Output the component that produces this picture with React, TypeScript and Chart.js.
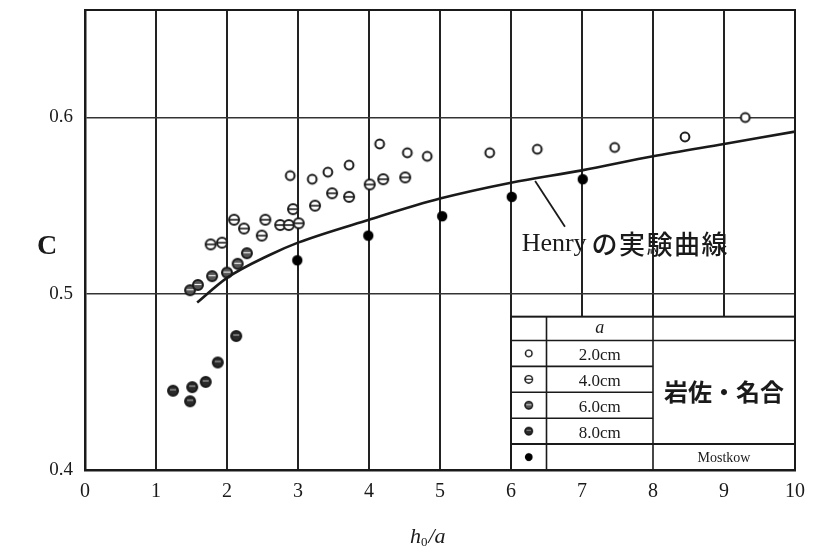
import React, { useEffect, useRef } from "react";
import { Chart, registerables } from "chart.js";
Chart.register(...registerables);

// ---- data ----
const xTickValues = [0, 1, 2, 3, 4, 5, 6, 7, 8, 9, 10];
const yTickValues = [0.4, 0.5, 0.6];

const a20X = [2.89, 3.2, 3.42, 3.72, 4.15, 4.54, 4.82, 5.7, 6.37, 7.46, 8.45, 9.3];
const a20Y = [0.567, 0.565, 0.569, 0.573, 0.585, 0.58, 0.578, 0.58, 0.582, 0.583, 0.589, 0.6];

const a40X = [1.77, 1.93, 2.1, 2.24, 2.49, 2.54, 2.75, 2.87, 3.01, 2.93, 3.24, 3.48, 3.72, 4.01, 4.2, 4.51];
const a40Y = [0.528, 0.529, 0.542, 0.537, 0.533, 0.542, 0.539, 0.539, 0.54, 0.548, 0.55, 0.557, 0.555, 0.562, 0.565, 0.566];

const a60X = [1.48, 1.59, 1.79, 2.0, 2.15, 2.28];
const a60Y = [0.502, 0.505, 0.51, 0.512, 0.517, 0.523];

const a80X = [1.24, 1.48, 1.51, 1.7, 1.87, 2.13];
const a80Y = [0.445, 0.439, 0.447, 0.45, 0.461, 0.476];

const mostkowX = [2.99, 3.99, 5.03, 6.01, 7.01];
const mostkowY = [0.519, 0.533, 0.544, 0.555, 0.565];

const henryX = [1.58, 2.0, 2.6, 3.0, 4.0, 5.0, 6.0, 7.0, 8.0, 9.0, 10.0];
const henryY = [0.495, 0.509, 0.522, 0.529, 0.542, 0.554, 0.563, 0.57, 0.578, 0.585, 0.592];

const legendRows = ["2.0cm", "4.0cm", "6.0cm", "8.0cm"];
const henryLatin = "Henry";
const henryCJK = "の実験曲線";
const groupLabel = "岩佐・名合";
const mostkowLabel = "Mostkow";

const INK = "#1a1a1a";
const SERIF = "'Liberation Serif', 'DejaVu Serif', serif";

function pts(xs: number[], ys: number[]) {
  return xs.map((x, i) => ({ x, y: ys[i] }));
}

type Kind = "open" | "bar" | "half" | "dark" | "solid";
function makeMarker(kind: Kind, r = 4.6) {
  const c = document.createElement("canvas");
  const s = 16;
  c.width = s;
  c.height = s;
  const g = c.getContext("2d")!;
  const m = s / 2;
  g.lineWidth = 2;
  g.strokeStyle = INK;
  g.beginPath();
  g.arc(m, m, r, 0, Math.PI * 2);
  if (kind === "open") {
    g.fillStyle = "#fff";
    g.fill();
    g.stroke();
  } else if (kind === "bar") {
    g.fillStyle = "#fff";
    g.fill();
    g.stroke();
    g.beginPath();
    g.moveTo(m - r, m);
    g.lineTo(m + r, m);
    g.lineWidth = 1.6;
    g.stroke();
  } else if (kind === "half") {
    g.fillStyle = "#555";
    g.fill();
    g.stroke();
    g.beginPath();
    g.moveTo(m - r + 1.5, m - 0.5);
    g.lineTo(m + r - 1.5, m - 0.5);
    g.strokeStyle = "#eee";
    g.lineWidth = 1.2;
    g.stroke();
  } else if (kind === "dark") {
    g.fillStyle = "#2a2a2a";
    g.fill();
    g.stroke();
    g.beginPath();
    g.moveTo(m - r + 2, m - 1);
    g.lineTo(m + r - 2, m - 1);
    g.strokeStyle = "#bbb";
    g.lineWidth = 1;
    g.stroke();
  } else {
    g.fillStyle = "#000";
    g.fill();
  }
  return c;
}

export default function App() {
  const ref = useRef<HTMLCanvasElement>(null);

  useEffect(() => {
    const markers = {
      open: makeMarker("open", 4.4),
      bar: makeMarker("bar", 5),
      half: makeMarker("half", 5),
      dark: makeMarker("dark", 5),
      solid: makeMarker("solid", 5.2),
    };

    const overlay = {
      id: "overlay",
      afterDatasetsDraw(chart: any) {
        const { ctx, chartArea: a, scales } = chart;
        const xs = scales.x;
        const ys = scales.y;
        const px = (v: number) => xs.getPixelForValue(v);
        const py = (v: number) => ys.getPixelForValue(v);
        ctx.save();
        ctx.strokeStyle = INK;
        ctx.fillStyle = INK;

        // frame top & right
        ctx.lineWidth = 2;
        ctx.beginPath();
        ctx.moveTo(a.left, a.top);
        ctx.lineTo(a.right, a.top);
        ctx.lineTo(a.right, a.bottom);
        ctx.stroke();

        // Henry annotation
        ctx.lineWidth = 1.8;
        ctx.beginPath();
        ctx.moveTo(px(6.34), py(0.564));
        ctx.lineTo(px(6.76), py(0.538));
        ctx.stroke();
        ctx.textAlign = "left";
        ctx.textBaseline = "middle";
        const tx = px(6.15);
        const ty = py(0.528);
        ctx.font = `26px ${SERIF}`;
        ctx.fillText(henryLatin, tx, ty);
        let cx = tx + ctx.measureText(henryLatin).width + 5;
        ctx.font = `500 26px 'Noto Sans CJK JP'`;
        for (const ch of Array.from(henryCJK)) {
          ctx.fillText(ch, cx, ty);
          cx += 27.5;
        }

        // table
        const c0 = px(6), c1 = px(6.5), c2 = px(8), c3 = px(10);
        const top = py(0.487);
        const hb = py(0.4735);
        const bottom = py(0.4);
        const rh = (bottom - hb) / 5;
        ctx.fillStyle = "#fff";
        ctx.fillRect(c0, top, c3 - c0, bottom - top);
        ctx.strokeStyle = INK;
        ctx.lineWidth = 2;
        ctx.strokeRect(c0, top, c3 - c0, bottom - top);
        ctx.lineWidth = 1.6;
        ctx.beginPath();
        ctx.moveTo(c1, top); ctx.lineTo(c1, bottom);
        ctx.moveTo(c2, top); ctx.lineTo(c2, bottom);
        ctx.moveTo(c0, hb); ctx.lineTo(c3, hb);
        for (let i = 1; i < 4; i++) {
          ctx.moveTo(c0, hb + rh * i);
          ctx.lineTo(c2, hb + rh * i);
        }
        ctx.stroke();
        ctx.lineWidth = 2;
        ctx.beginPath();
        ctx.moveTo(c0, hb + rh * 4); ctx.lineTo(c3, hb + rh * 4);
        ctx.stroke();

        ctx.fillStyle = INK;
        ctx.textAlign = "center";
        ctx.textBaseline = "middle";
        ctx.font = `italic 18px ${SERIF}`;
        ctx.fillText("a", (c1 + c2) / 2, (top + hb) / 2);
        const ms = [markers.open, markers.bar, markers.half, markers.dark, markers.solid];
        ctx.font = `17px ${SERIF}`;
        for (let i = 0; i < 5; i++) {
          const cy = hb + rh * i + rh / 2;
          const mk = ms[i];
          const sz = 12;
          ctx.drawImage(mk, (c0 + c1) / 2 - sz / 2, cy - sz / 2, sz, sz);
          if (i < 4) ctx.fillText(legendRows[i], (c1 + c2) / 2, cy + 2);
        }
        ctx.font = `bold 24px 'Noto Sans CJK JP'`;
        ctx.fillText(groupLabel, (c2 + c3) / 2, hb + rh * 2);
        ctx.font = `14px ${SERIF}`;
        ctx.fillText(mostkowLabel, (c2 + c3) / 2, hb + rh * 4.5 + 1);

        // y title "C"
        ctx.font = `bold 28px ${SERIF}`;
        ctx.textAlign = "center";
        ctx.textBaseline = "middle";
        ctx.fillText("C", a.left - 38, (a.top + a.bottom) / 2 + 7);

        // x title h0/a
        const bx = (a.left + a.right) / 2 - 30;
        const by = a.bottom + 73;
        ctx.textAlign = "left";
        ctx.textBaseline = "alphabetic";
        ctx.font = `italic 22px ${SERIF}`;
        ctx.fillText("h", bx, by);
        const hw = ctx.measureText("h").width;
        ctx.font = `13px ${SERIF}`;
        ctx.fillText("0", bx + hw, by + 3);
        const zw = ctx.measureText("0").width;
        ctx.font = `italic 22px ${SERIF}`;
        ctx.fillText("/a", bx + hw + zw + 1, by);

        ctx.restore();
      },
    };

    const chart = new Chart(ref.current!, {
      type: "scatter",
      data: {
        datasets: [
          {
            type: "line",
            label: "Henry",
            data: pts(henryX, henryY),
            borderColor: INK,
            borderWidth: 2.6,
            pointRadius: 0,
            cubicInterpolationMode: "monotone",
            fill: false,
          } as any,
          { label: "2.0cm", data: pts(a20X, a20Y), pointStyle: markers.open, pointRadius: 6 },
          { label: "4.0cm", data: pts(a40X, a40Y), pointStyle: markers.bar, pointRadius: 6 },
          { label: "6.0cm", data: pts(a60X, a60Y), pointStyle: markers.half, pointRadius: 6 },
          { label: "8.0cm", data: pts(a80X, a80Y), pointStyle: markers.dark, pointRadius: 6 },
          { label: "Mostkow", data: pts(mostkowX, mostkowY), pointStyle: markers.solid, pointRadius: 6 },
        ],
      },
      options: {
        responsive: false,
        animation: false,
        devicePixelRatio: 1,
        layout: { padding: { left: 0, right: 22, top: 10, bottom: 0 } },
        plugins: { legend: { display: false }, tooltip: { enabled: false } },
        scales: {
          x: {
            type: "linear",
            min: 0,
            max: 10,
            afterBuildTicks: (s: any) => {
              s.ticks = xTickValues.map((v) => ({ value: v }));
            },
            afterFit: (s: any) => {
              s.height = 83;
            },
            ticks: {
              color: INK,
              font: { family: SERIF, size: 20 },
              padding: 10,
              maxRotation: 0,
            },
            grid: { color: "#222", lineWidth: 2, drawTicks: false },
            border: { color: INK, width: 2.5 },
          },
          y: {
            type: "linear",
            min: 0.4,
            max: 0.661,
            afterBuildTicks: (s: any) => {
              s.ticks = yTickValues.map((v) => ({ value: v }));
            },
            afterFit: (s: any) => {
              s.width = 85;
              s.paddingTop = 0;
              s.paddingBottom = 0;
            },
            ticks: {
              color: INK,
              font: { family: SERIF, size: 19 },
              padding: 12,
              callback: (v: any) => Number(v).toFixed(1),
            },
            grid: { color: "#333", lineWidth: 1.6, drawTicks: false },
            border: { color: INK, width: 2.5 },
          },
        },
      },
      plugins: [overlay],
    } as any);
    return () => chart.destroy();
  }, []);

  return (
    <div style={{ position: "absolute", left: 0, top: 0, width: 817, height: 553, background: "#fff" }}>
      <canvas ref={ref} width={817} height={553} style={{ width: 817, height: 553, display: "block" }} />
    </div>
  );
}
